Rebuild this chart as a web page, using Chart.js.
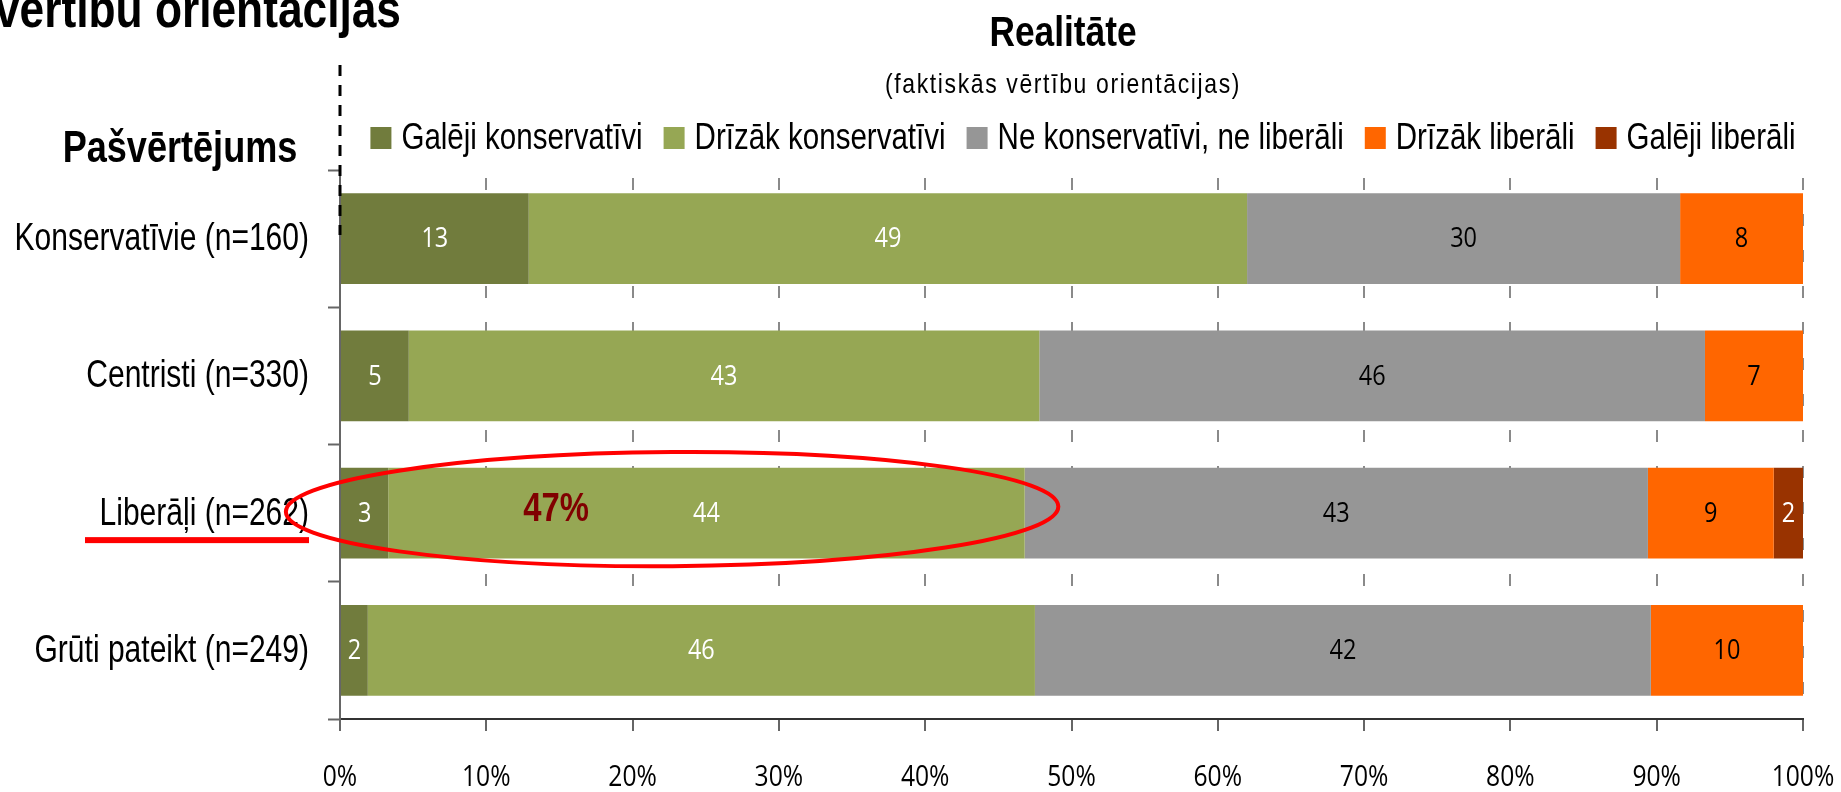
<!DOCTYPE html>
<html>
<head>
<meta charset="utf-8">
<title>Pašvērtējums un realitāte</title>
<script src="https://cdn.jsdelivr.net/npm/chart.js@4.4.1/dist/chart.umd.min.js"></script>
<style>
  html, body { margin: 0; padding: 0; background: #fff; }
  #wrap { width: 1841px; height: 792px; }
</style>
</head>
<body>
<div id="wrap"><canvas id="orientChart" width="1841" height="792"></canvas></div>
<script>
// Data (percent of each self-assessment group)
var categories  = ['Konservatīvie (n=160)', 'Centristi (n=330)', 'Liberāļi (n=262)', 'Grūti pateikt (n=249)'];
var seriesNames = ['Galēji konservatīvi', 'Drīzāk konservatīvi', 'Ne konservatīvi, ne liberāli', 'Drīzāk liberāli', 'Galēji liberāli'];
var galejiKons  = [12.9, 4.7, 3.3, 1.9];
var drizakKons  = [49.1, 43.1, 43.5, 45.6];
var neitrali    = [29.6, 45.5, 42.6, 42.1];
var drizakLib   = [8.4, 6.7, 8.6, 10.4];
var galejiLib   = [0, 0, 2.0, 0];
var xTicks      = [0, 10, 20, 30, 40, 50, 60, 70, 80, 90, 100];

var seriesColors = ['#717c3d', '#96a754', '#969696', '#ff6600', '#993300'];
var labelColors  = ['#ffffff', '#ffffff', '#000000', '#000000', '#ffffff'];
var highlightRow = 2;

// no narrow font installed: squeeze Liberation Sans / Open Sans horizontally
var SANS = "'Liberation Sans', Arial, sans-serif";
var NUM  = "'Open Sans', 'Noto Sans', sans-serif";
var NARROW_X = 0.82;
var NUM_X = 0.85;

function narrowText(c, text, x, y, sx) {
    c.save();
    c.translate(x, y);
    c.scale(sx, 1);
    c.fillText(text, 0, 0);
    c.restore();
}

(function () {
    var canvas = document.getElementById('orientChart');
    if (!canvas) return;
    var ctx = canvas.getContext('2d');

    var seriesValues = [galejiKons, drizakKons, neitrali, drizakLib, galejiLib];

    // axis labels + segment values inside bars
    var valueLabels = {
        id: 'valueLabels',
        afterDatasetsDraw: function (chart) {
            var c = chart.ctx;
            var xs = chart.scales.x, ys = chart.scales.y;
            c.save();
            c.textBaseline = 'middle';

            c.font = '27px ' + NUM;
            c.textAlign = 'center';
            chart.data.datasets.forEach(function (ds, i) {
                chart.getDatasetMeta(i).data.forEach(function (bar, j) {
                    var v = ds.data[j];
                    if (!v) return;
                    c.fillStyle = labelColors[i];
                    narrowText(c, String(Math.round(v)), (bar.x + bar.base) / 2, bar.y + 1, 0.87);
                });
            });

            c.fillStyle = '#000';
            c.font = '29px ' + NUM;
            xTicks.forEach(function (v) {
                narrowText(c, v + '%', xs.getPixelForValue(v), 778, NUM_X);
            });

            c.font = '38px ' + SANS;
            c.textAlign = 'right';
            chart.data.labels.forEach(function (lab, i) {
                narrowText(c, lab, 309, ys.getPixelForTick(i) + 1, 0.79);
            });
            c.restore();
        }
    };

    // headings, legend and the hand-drawn highlight
    var decorations = {
        id: 'decorations',
        afterDraw: function (chart) {
            var c = chart.ctx;
            var area = chart.chartArea;
            var xs = chart.scales.x;
            c.save();

            // cut-off slide title at the top left
            c.fillStyle = '#000';
            c.font = 'bold 54px ' + SANS;
            c.textAlign = 'right';
            c.textBaseline = 'alphabetic';
            narrowText(c, 'vērtību orientācijas', 401, 27, NARROW_X);

            c.textAlign = 'center';
            c.font = 'bold 43px ' + SANS;
            narrowText(c, 'Realitāte', 1063, 46, NARROW_X);

            c.font = '28px ' + SANS;
            if ('letterSpacing' in c) c.letterSpacing = '2px';
            narrowText(c, '(faktiskās vērtību orientācijas)', 1063, 93, NARROW_X);
            if ('letterSpacing' in c) c.letterSpacing = '0px';

            c.font = 'bold 44px ' + SANS;
            narrowText(c, 'Pašvērtējums', 180, 162, NARROW_X);

            // legend
            c.font = '36px ' + SANS;
            c.textAlign = 'left';
            c.textBaseline = 'middle';
            var box = 21, gap = 10, spacing = 21;
            var widths = chart.data.datasets.map(function (ds) {
                return c.measureText(ds.label).width * NARROW_X;
            });
            var total = widths.reduce(function (a, w) { return a + box + gap + w; }, 0) + spacing * (widths.length - 1);
            var lx = 1083 - total / 2;
            chart.data.datasets.forEach(function (ds, i) {
                c.fillStyle = ds.backgroundColor;
                c.fillRect(lx, 127, box, 22);
                c.fillStyle = '#000';
                narrowText(c, ds.label, lx + box + gap, 139, NARROW_X);
                lx += box + gap + widths[i] + spacing;
            });

            // dashed divider above the axis
            c.strokeStyle = '#000';
            c.lineWidth = 3;
            c.setLineDash([11, 9]);
            c.beginPath();
            c.moveTo(area.left, 65);
            c.lineTo(area.left, 235);
            c.stroke();
            c.setLineDash([]);

            // red highlight of the liberal group
            var bar = chart.getDatasetMeta(1).data[highlightRow];
            var cx = xs.getPixelForValue(22.7);
            var rx = xs.getPixelForValue(26.4) - xs.getPixelForValue(0);
            c.strokeStyle = '#ff0000';
            c.lineWidth = 4;
            c.beginPath();
            c.ellipse(cx, bar.y - 4, rx, bar.height * 0.63, -0.007, 0, Math.PI * 2);
            c.stroke();

            var share = Math.round(galejiKons[highlightRow] + drizakKons[highlightRow]);
            c.fillStyle = '#800000';
            c.font = 'bold 40px ' + SANS;
            c.textAlign = 'center';
            narrowText(c, share + '%', 556, bar.y - 3, NARROW_X);

            c.fillStyle = '#ff0000';
            c.fillRect(85, bar.y + 24, 224, 6);

            c.restore();
        }
    };

    new Chart(ctx, {
        type: 'bar',
        data: {
            labels: categories,
            datasets: seriesNames.map(function (name, i) {
                return {
                    label: name,
                    data: seriesValues[i],
                    backgroundColor: seriesColors[i],
                    borderWidth: 0,
                    barPercentage: 0.66,
                    categoryPercentage: 1
                };
            })
        },
        options: {
            indexAxis: 'y',
            responsive: false,
            animation: false,
            layout: { padding: { top: 170, right: 38, bottom: 0, left: 0 } },
            plugins: {
                legend: { display: false },
                tooltip: { enabled: false }
            },
            scales: {
                x: {
                    stacked: true,
                    min: 0,
                    max: 100,
                    afterFit: function (scale) { scale.height = 73; },
                    afterBuildTicks: function (axis) {
                        axis.ticks = xTicks.map(function (v) { return { value: v }; });
                    },
                    grid: {
                        color: '#8a8a8a',
                        lineWidth: 2,
                        tickBorderDash: [],
                        tickColor: '#666',
                        tickWidth: 2,
                        tickLength: 12
                    },
                    border: { display: true, color: '#333', width: 2, dash: [12, 24], dashOffset: 28 },
                    ticks: { display: false }
                },
                y: {
                    stacked: true,
                    afterFit: function (scale) { scale.width = 340; },
                    grid: {
                        offset: true,
                        drawOnChartArea: false,
                        tickColor: '#666',
                        tickWidth: 2,
                        tickLength: 12
                    },
                    border: { display: true, color: '#666', width: 2 },
                    ticks: { display: false }
                }
            }
        },
        plugins: [valueLabels, decorations]
    });
})();
</script>
</body>
</html>
